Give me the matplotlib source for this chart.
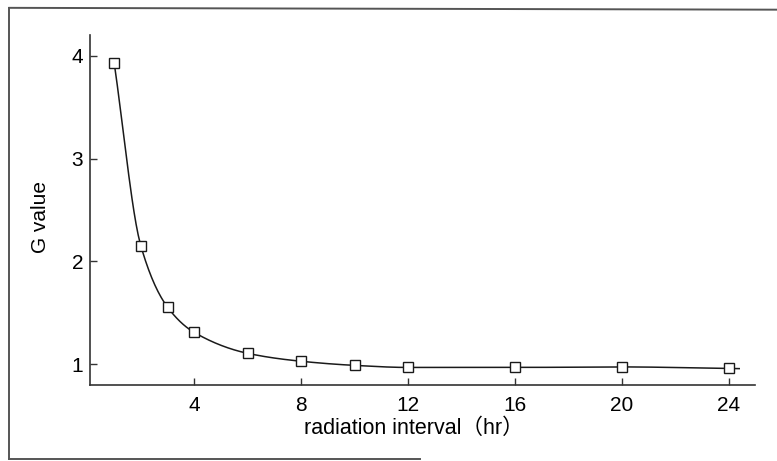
import numpy as np
import matplotlib.pyplot as plt
from matplotlib.lines import Line2D

# ---------------- data ----------------
hours = [1, 2, 3, 4, 6, 8, 10, 12, 16, 20, 24]
g_value = [3.93, 2.15, 1.555, 1.31, 1.107, 1.03, 0.99, 0.97, 0.97, 0.975, 0.96]
x_ticks = [4, 8, 12, 16, 20, 24]
y_ticks = [1, 2, 3, 4]


def pchip(x, y, xs):
    # monotone cubic (Fritsch-Carlson) for the smooth connecting curve
    x = np.asarray(x, float)
    y = np.asarray(y, float)
    h = np.diff(x)
    d = np.diff(y) / h
    m = np.zeros_like(y)
    for k in range(1, len(x) - 1):
        if d[k - 1] * d[k] > 0:
            w1 = 2 * h[k] + h[k - 1]
            w2 = h[k] + 2 * h[k - 1]
            m[k] = (w1 + w2) / (w1 / d[k - 1] + w2 / d[k])
    m[0] = d[0]
    m[-1] = d[-1]
    out = np.empty_like(xs)
    for i, xv in enumerate(xs):
        if xv >= x[-1]:
            out[i] = y[-1] + m[-1] * (xv - x[-1])
            continue
        k = min(np.searchsorted(x, xv, side='right') - 1, len(x) - 2)
        t = (xv - x[k]) / h[k]
        h00 = 2 * t**3 - 3 * t**2 + 1
        h10 = t**3 - 2 * t**2 + t
        h01 = -2 * t**3 + 3 * t**2
        h11 = t**3 - t**2
        out[i] = h00 * y[k] + h10 * h[k] * m[k] + h01 * y[k + 1] + h11 * h[k] * m[k + 1]
    return out


plt.rcParams['font.family'] = ['Liberation Sans', 'Noto Sans CJK JP', 'DejaVu Sans']

fig = plt.figure(figsize=(7.77, 4.61), dpi=100)
ax = fig.add_axes([0.116, 0.165, 0.856, 0.759])

xs = np.linspace(hours[0], hours[-1] + 0.4, 600)
ax.plot(xs, pchip(hours, g_value, xs), color='#1a1a1a', lw=1.1)
ax.plot(hours, g_value, linestyle='none', marker='s', markersize=7,
        markerfacecolor='white', markeredgecolor='#1a1a1a', markeredgewidth=1.0)

ax.set_xlim(0.1, 25.0)
ax.set_ylim(0.8, 4.2)
ax.set_xticks(x_ticks)
ax.set_yticks(y_ticks)
ax.tick_params(direction='in', length=5, width=1, labelsize=15, color='#333333')
ax.tick_params(axis='x', pad=8)
ax.tick_params(axis='y', pad=5)
for s in ['top', 'right']:
    ax.spines[s].set_visible(False)
for s in ['left', 'bottom']:
    ax.spines[s].set_linewidth(1.2)
    ax.spines[s].set_color('#333333')

ax.set_xlabel('radiation interval\uff08hr\uff09', fontsize=15.5)
ax.set_ylabel('G value', fontsize=15)
ax.xaxis.set_label_coords(0.487, -0.095)
ax.yaxis.set_label_coords(-0.060, 0.48)

# scanned frame round the figure (top, left, part of bottom)
frame = dict(transform=fig.transFigure, color='#555555', lw=1.4)
fig.add_artist(Line2D([0.012, 1.0], [0.983, 0.979], **frame))
fig.add_artist(Line2D([0.012, 0.012], [0.983, 0.004], **frame))
fig.add_artist(Line2D([0.012, 0.54], [0.004, 0.004], **frame))

fig.savefig('out.png', dpi=100)
